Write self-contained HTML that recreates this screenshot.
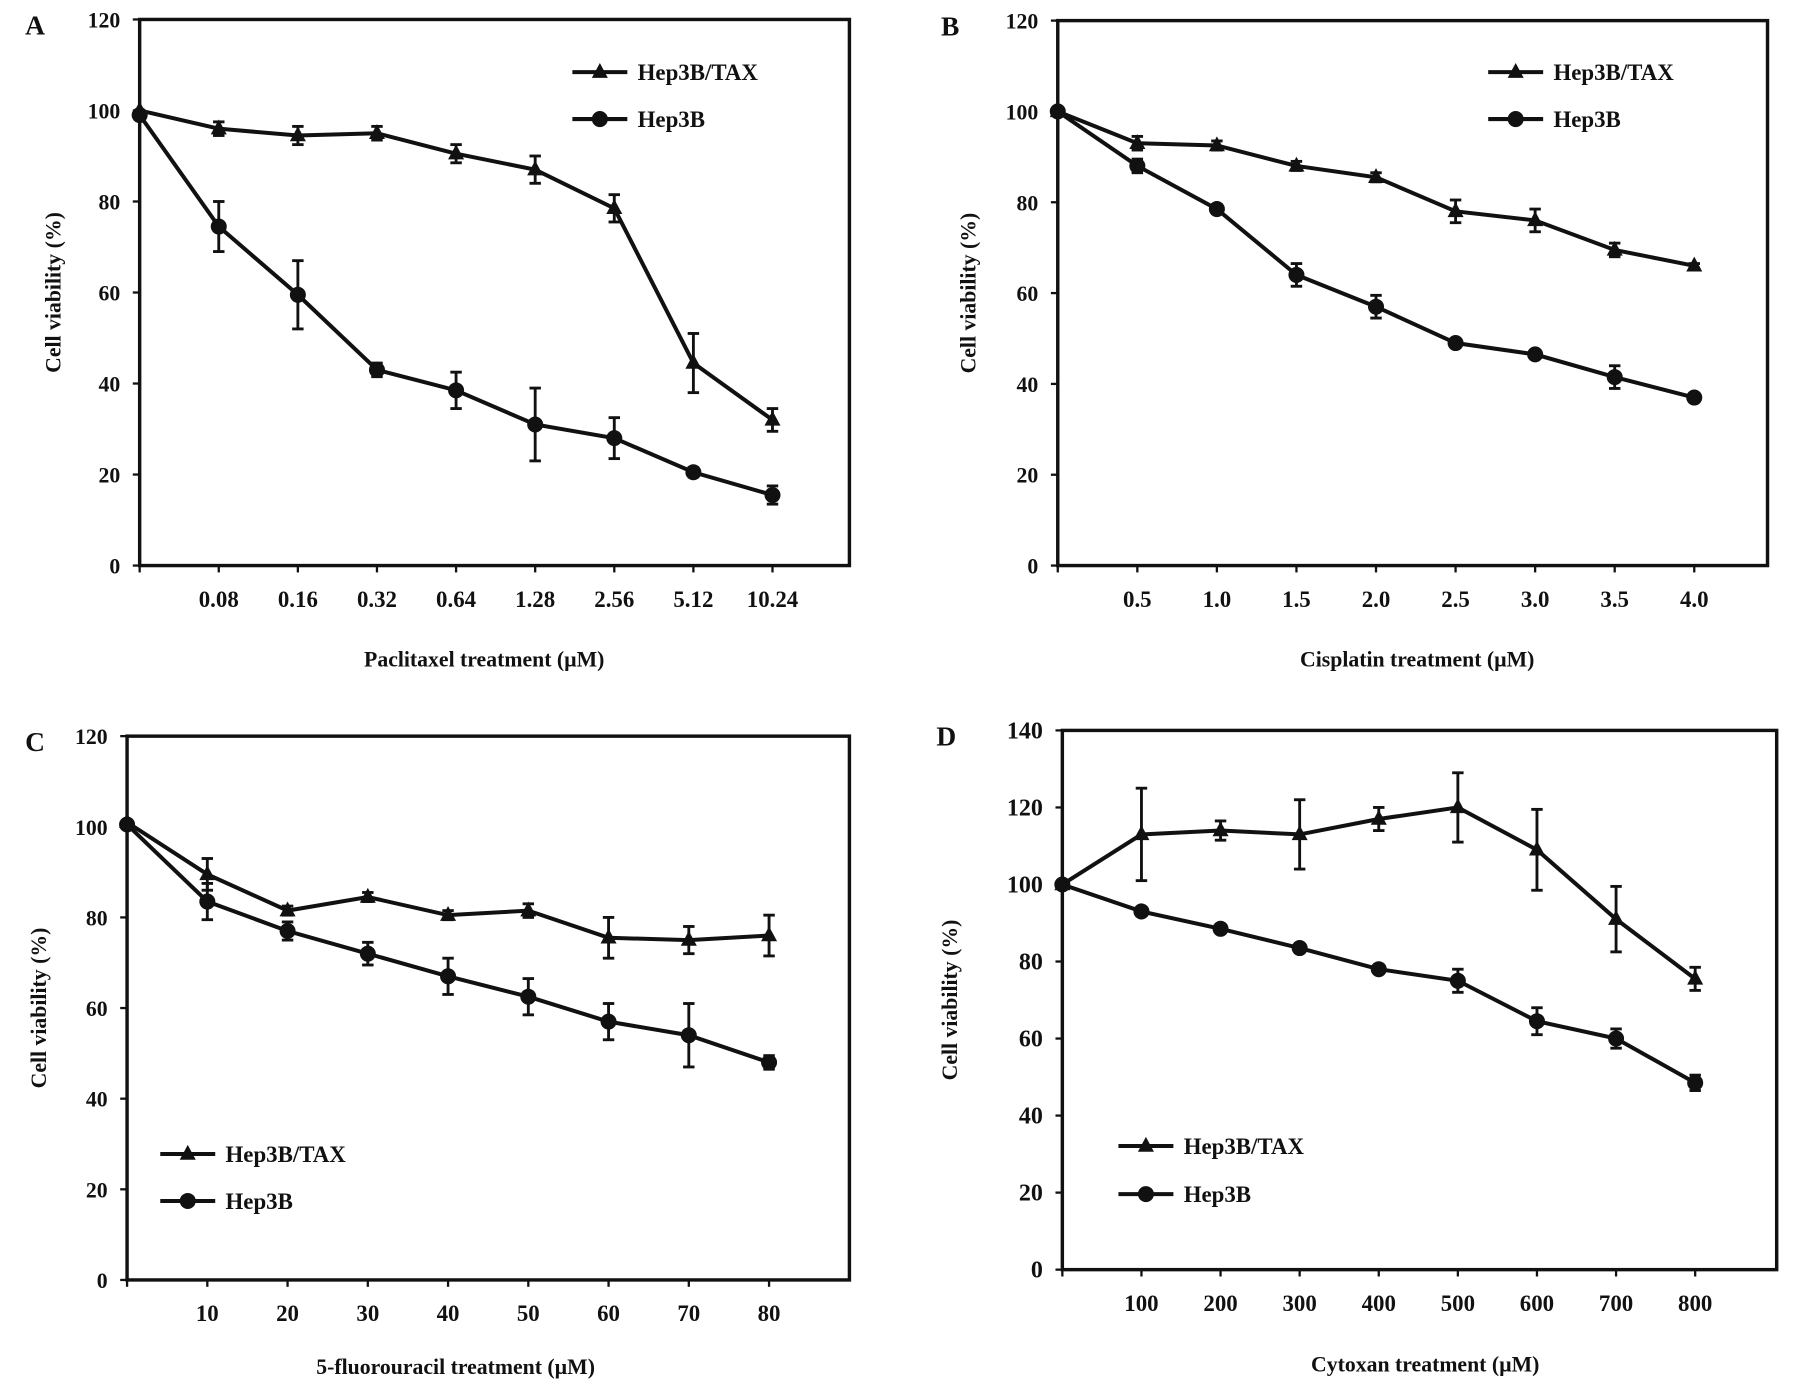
<!DOCTYPE html>
<html><head><meta charset="utf-8"><style>
html,body{margin:0;padding:0;background:#fff;}
svg{display:block;}
text{font-family:"Liberation Serif",serif;font-weight:bold;fill:#111;}
</style></head><body>
<svg id="fig" width="1795" height="1391" viewBox="0 0 1568 1215" preserveAspectRatio="none" xmlns="http://www.w3.org/2000/svg"></svg>
<script>
// Panel A
const aCats=["0.08","0.16","0.32","0.64","1.28","2.56","5.12","10.24"];
const aTax=[100,96,94.5,95,90.5,87,78.5,44.5,32];
const aTaxErr=[0,1.5,2,1.5,2,3,3,6.5,2.5];
const aHep=[99,74.5,59.5,43,38.5,31,28,20.5,15.5];
const aHepErr=[0,5.5,7.5,1.5,4,8,4.5,1,2];
const aYTicks=[0,20,40,60,80,100,120];
// Panel B
const bCats=["0.5","1.0","1.5","2.0","2.5","3.0","3.5","4.0"];
const bTax=[100,93,92.5,88,85.5,78,76,69.5,66];
const bTaxErr=[0,1.5,1,1,1,2.5,2.5,1.5,0.5];
const bHep=[100,88,78.5,64,57,49,46.5,41.5,37];
const bHepErr=[0,1.5,1,2.5,2.5,0.5,0.5,2.5,0.5];
const bYTicks=[0,20,40,60,80,100,120];
// Panel C
const cCats=["10","20","30","40","50","60","70","80"];
const cTax=[101,89.5,81.5,84.5,80.5,81.5,75.5,75,76];
const cTaxErr=[0,3.5,1,1,1,1.5,4.5,3,4.5];
const cHep=[100.5,83.5,77,72,67,62.5,57,54,48];
const cHepErr=[0,4,2,2.5,4,4,4,7,1.5];
const cYTicks=[0,20,40,60,80,100,120];
// Panel D
const dCats=["100","200","300","400","500","600","700","800"];
const dTax=[100,113,114,113,117,120,109,91,75.5];
const dTaxErr=[0,12,2.5,9,3,9,10.5,8.5,3];
const dHep=[100,93,88.5,83.5,78,75,64.5,60,48.5];
const dHepErr=[0,1,1,1,1,3,3.5,2.5,2];
const dYTicks=[0,20,40,60,80,100,120,140];

const NS="http://www.w3.org/2000/svg";
const svg=document.getElementById('fig');
function mk(tag,attrs,parent){const e=document.createElementNS(NS,tag);for(const k in attrs)e.setAttribute(k,attrs[k]);(parent||svg).appendChild(e);return e;}

function panel(cfg){
  const g=mk('g',{});
  
  
  const {L,R,T,B,step,ymax}=cfg;
  const xs=i=>L+step*i;
  const ys=v=>B-(v/ymax)*(B-T);
  const box=mk('rect',{x:L,y:T,width:R-L,height:B-T,fill:'none',stroke:'#111','stroke-width':3},g);
  
  
  const lt=mk('text',{x:cfg.letterX,y:T+13,'font-size':24},g);lt.textContent=cfg.letter;
  
  
  cfg.yticks.forEach(v=>{
    mk('line',{x1:L-6,x2:L,y1:ys(v),y2:ys(v),stroke:'#111','stroke-width':2},g);
    const t=mk('text',{x:L-17,y:ys(v)+7,'font-size':cfg.yfs,'text-anchor':'end'},g);t.textContent=v;
    
    
  });
  for(let i=0;i<=cfg.cats.length;i++){mk('line',{x1:xs(i),x2:xs(i),y1:B,y2:B+6,stroke:'#111','stroke-width':2},g);}
  cfg.cats.forEach((c,i)=>{
    const t=mk('text',{x:xs(i+1),y:B+36,'font-size':20,'text-anchor':'middle'},g);t.textContent=c;
    
    
  });
  const xt=mk('text',{x:cfg.xtX,y:cfg.xtY,'font-size':19,'text-anchor':'middle'},g);xt.textContent=cfg.xtitle;
  
  
  const yt=mk('text',{x:0,y:0,'font-size':19,'text-anchor':'middle',transform:`translate(${cfg.ytX},${(T+B)/2}) rotate(-90)`},g);yt.textContent='Cell viability (%)';
  
  
  function series(vals,errs,marker,name){
    const sg=mk('g',{},g);
    
    
    const pl=mk('polyline',{points:vals.map((v,i)=>xs(i)+','+ys(v)).join(' '),fill:'none',stroke:'#111','stroke-width':3.5},sg);
    
    
    vals.forEach((v,i)=>{
      const e=errs[i];
      if(e>0){
        const x=xs(i);
        mk('line',{x1:x,x2:x,y1:ys(v+e),y2:ys(v-e),stroke:'#111','stroke-width':2.5},sg);
        mk('line',{x1:x-5,x2:x+5,y1:ys(v+e),y2:ys(v+e),stroke:'#111','stroke-width':2.5},sg);
        mk('line',{x1:x-5,x2:x+5,y1:ys(v-e),y2:ys(v-e),stroke:'#111','stroke-width':2.5},sg);
      }
      let m;
      if(marker==='tri') m=mk('polygon',{points:`${xs(i)},${ys(v)-8} ${xs(i)-7},${ys(v)+5} ${xs(i)+7},${ys(v)+5}`,fill:'#111'},sg);
      else m=mk('circle',{cx:xs(i),cy:ys(v),r:7,fill:'#111'},sg);
      
      
    });
  }
  series(cfg.hep,cfg.hepErr,'circ','hep3b-series');
  series(cfg.tax,cfg.taxErr,'tri','hep3b-tax-series');
  // legend
  const lg=mk('g',{},g);
  
  
  [[cfg.legY1,'tri','Hep3B/TAX'],[cfg.legY2,'circ','Hep3B']].forEach(([y,m,lab])=>{
    const x0=cfg.legX;
    mk('line',{x1:x0,x2:x0+48,y1:y,y2:y,stroke:'#111','stroke-width':3.5},lg);
    if(m==='tri') mk('polygon',{points:`${x0+24},${y-8} ${x0+17},${y+5} ${x0+31},${y+5}`,fill:'#111'},lg);
    else mk('circle',{cx:x0+24,cy:y,r:7,fill:'#111'},lg);
    const t=mk('text',{x:x0+57,y:y+7,'font-size':20},lg);t.textContent=lab;
    
    
  });
}

panel({letter:'A',letterX:22,L:122,R:742,T:17,B:494,step:69.1,ymax:120,yfs:19,yticks:aYTicks,cats:aCats,
  tax:aTax,taxErr:aTaxErr,hep:aHep,hepErr:aHepErr,xtitle:'Paclitaxel treatment (\u00b5M)',xtX:423,xtY:582,ytX:53,
  legX:500,legY1:63,legY2:104});
panel({letter:'B',letterX:822,L:924,R:1544,T:18,B:494,step:69.5,ymax:120,yfs:19,yticks:bYTicks,cats:bCats,
  tax:bTax,taxErr:bTaxErr,hep:bHep,hepErr:bHepErr,xtitle:'Cisplatin treatment (\u00b5M)',xtX:1238,xtY:582,ytX:852,
  legX:1300,legY1:63,legY2:104});
panel({letter:'C',letterX:22,L:111,R:742,T:643,B:1118,step:70.1,ymax:120,yfs:19,yticks:cYTicks,cats:cCats,
  tax:cTax,taxErr:cTaxErr,hep:cHep,hepErr:cHepErr,xtitle:'5-fluorouracil treatment (\u00b5M)',xtX:398,xtY:1200,ytX:40,
  legX:140,legY1:1008,legY2:1049});
panel({letter:'D',letterX:818,L:928,R:1552,T:638,B:1109,step:69.1,ymax:140,yfs:21,yticks:dYTicks,cats:dCats,
  tax:dTax,taxErr:dTaxErr,hep:dHep,hepErr:dHepErr,xtitle:'Cytoxan treatment (\u00b5M)',xtX:1245,xtY:1198,ytX:836,
  legX:977,legY1:1001,legY2:1043});
</script>
</body></html>
